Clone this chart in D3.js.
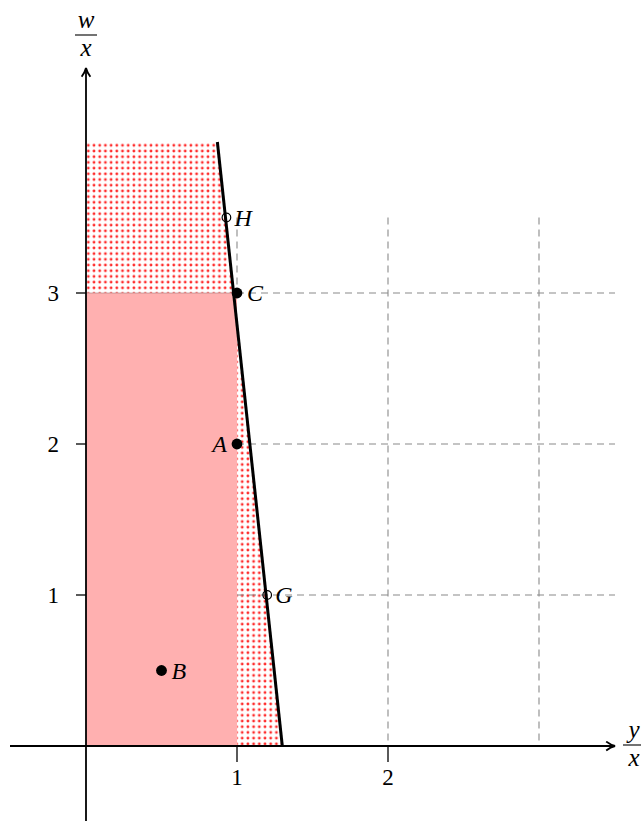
<!DOCTYPE html>
<html>
<head>
<meta charset="utf-8">
<script src="https://cdn.jsdelivr.net/npm/d3@7"></script>
<style>
  body { margin: 0; background: #fff; }
  text { font-family: "Liberation Serif", "DejaVu Serif", serif; }
</style>
</head>
<body>
<div id="chart"></div>
<script>
// chart values
const xTicks = [1, 2];
const yTicks = [1, 2, 3];
const gridX = [2, 3];          // vertical dashed lines
const gridY = [1, 2, 3];       // horizontal dashed lines
const gridTop = 3.5;
const boundary = [[1.3, 0], [0.87, 4]];   // thick line
const solidRegion = [[0, 0], [1, 0], [1, 3], [0, 3]];
const dottedRegion = [[0, 3], [0, 4], [0.87, 4], [1.3, 0], [1, 0], [1, 3]];
const filledPts = [
  { name: "A", x: 1, y: 2, side: "left" },
  { name: "B", x: 0.5, y: 0.5, side: "right" },
  { name: "C", x: 1, y: 3, side: "right" }
];
const openPts = [
  { name: "G", x: 1.2, y: 1 },
  { name: "H", x: 0.93, y: 3.5 }
];

const width = 641, height = 821;
const svg = d3.select("#chart").append("svg")
  .attr("width", width).attr("height", height);

const x = d3.scaleLinear().domain([0, 3]).range([86, 539]);
const y = d3.scaleLinear().domain([0, 3]).range([746, 293]);

const defs = svg.append("defs");
const pat = defs.append("pattern")
  .attr("id", "dots").attr("patternUnits", "userSpaceOnUse")
  .attr("width", 5.7).attr("height", 5.7);
pat.append("rect").attr("width", 5.7).attr("height", 5.7).attr("fill", "#fff");
pat.append("circle").attr("cx", 2.8).attr("cy", 2.8).attr("r", 1.4).attr("fill", "#ff2a2a");
defs.append("marker").attr("id", "arrow")
  .attr("viewBox", "0 0 10 10").attr("refX", 9).attr("refY", 5)
  .attr("markerWidth", 11).attr("markerHeight", 11).attr("markerUnits", "userSpaceOnUse")
  .attr("orient", "auto")
  .append("path").attr("d", "M1,1 Q5,4 9,5 Q5,6 1,9")
  .attr("fill", "none").attr("stroke", "#000").attr("stroke-width", 1.7);

const line = d3.line().x(d => x(d[0])).y(d => y(d[1]));

// shaded regions
svg.append("path").attr("d", line(dottedRegion) + "Z").attr("fill", "url(#dots)");
svg.append("path").attr("d", line(solidRegion) + "Z").attr("fill", "#ffb0b0");
svg.append("line")
  .attr("x1", x(0)).attr("x2", x(1)).attr("y1", y(3)).attr("y2", y(3))
  .attr("stroke", "#a08080").attr("stroke-width", 0.6);

// dashed grid
const dash = svg.append("g").attr("stroke", "#8a8a8a").attr("stroke-width", 1.1)
  .attr("stroke-dasharray", "7,5").attr("fill", "none");
gridY.forEach(v => dash.append("line")
  .attr("x1", x(1)).attr("x2", 615).attr("y1", y(v)).attr("y2", y(v)));
gridX.forEach(v => dash.append("line")
  .attr("x1", x(v)).attr("x2", x(v)).attr("y1", y(gridTop)).attr("y2", y(0)));
dash.append("line").attr("x1", x(1)).attr("x2", x(1))
  .attr("y1", y(gridTop)).attr("y2", y(3));

// axes
svg.append("line").attr("x1", 10).attr("x2", 615).attr("y1", y(0)).attr("y2", y(0))
  .attr("stroke", "#000").attr("stroke-width", 1.8).attr("marker-end", "url(#arrow)");
svg.append("line").attr("x1", x(0)).attr("x2", x(0)).attr("y1", 821).attr("y2", 68)
  .attr("stroke", "#000").attr("stroke-width", 1.8).attr("marker-end", "url(#arrow)");

xTicks.forEach(v => {
  svg.append("line").attr("x1", x(v)).attr("x2", x(v)).attr("y1", y(0)).attr("y2", y(0) + 16)
    .attr("stroke", "#000").attr("stroke-width", 1.3);
  svg.append("text").attr("x", x(v)).attr("y", 785).attr("text-anchor", "middle")
    .attr("font-size", 23).text(v);
});
yTicks.forEach(v => {
  svg.append("line").attr("x1", x(0) - 10).attr("x2", x(0)).attr("y1", y(v)).attr("y2", y(v))
    .attr("stroke", "#000").attr("stroke-width", 1.3);
  svg.append("text").attr("x", 59).attr("y", y(v) + 8).attr("text-anchor", "end")
    .attr("font-size", 23).text(v);
});

// axis fraction labels
function frac(cx, top, num, den) {
  svg.append("text").attr("x", cx).attr("y", top + 18).attr("text-anchor", "middle")
    .attr("font-size", 25).attr("font-style", "italic").text(num);
  svg.append("line").attr("x1", cx - 11).attr("x2", cx + 11)
    .attr("y1", top + 25).attr("y2", top + 25).attr("stroke", "#000").attr("stroke-width", 1.1);
  svg.append("text").attr("x", cx).attr("y", top + 46).attr("text-anchor", "middle")
    .attr("font-size", 25).attr("font-style", "italic").text(den);
}
frac(86, 10, "w", "x");
frac(634, 720, "y", "x");

// boundary line
svg.append("path").attr("d", line(boundary)).attr("stroke", "#000")
  .attr("stroke-width", 3).attr("fill", "none");

// points
filledPts.forEach(p => {
  svg.append("circle").attr("cx", x(p.x)).attr("cy", y(p.y)).attr("r", 5.4).attr("fill", "#000");
  svg.append("text")
    .attr("x", p.side === "left" ? x(p.x) - 10 : x(p.x) + 10)
    .attr("y", y(p.y) + 8)
    .attr("text-anchor", p.side === "left" ? "end" : "start")
    .attr("font-size", 24).attr("font-style", "italic").text(p.name);
});
openPts.forEach(p => {
  svg.append("circle").attr("cx", x(p.x)).attr("cy", y(p.y)).attr("r", 4.3)
    .attr("fill", "none").attr("stroke", "#000").attr("stroke-width", 1.2);
  svg.append("text").attr("x", x(p.x) + 8).attr("y", y(p.y) + 8)
    .attr("font-size", 24).attr("font-style", "italic").text(p.name);
});
</script>
</body>
</html>
